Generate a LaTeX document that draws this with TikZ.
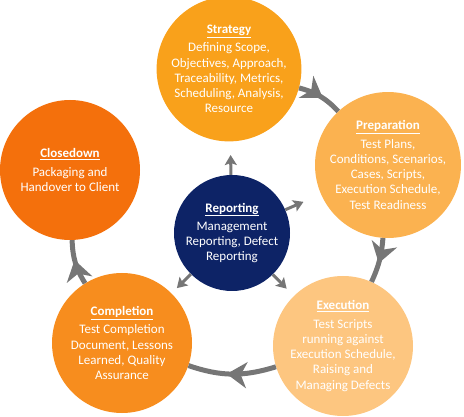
\documentclass[tikz,border=0pt]{standalone}
\usepackage{fontspec}
\setmainfont{Carlito}
\usepackage{tikz}
\usetikzlibrary{arrows.meta,decorations.markings,calc}
\definecolor{stratorange}{RGB}{249,161,27}
\definecolor{preporange}{RGB}{251,178,80}
\definecolor{execorange}{RGB}{253,198,128}
\definecolor{complorange}{RGB}{247,141,30}
\definecolor{closeorange}{RGB}{244,112,12}
\definecolor{repblue}{RGB}{13,35,102}
\definecolor{arrowgrey}{RGB}{118,118,118}
\newcommand{\phasetitle}[1]{\underline{\textbf{#1}}\\[3pt]}

\begin{document}
\begin{tikzpicture}[x=1pt,y=-1pt,
      phasenode/.style={circle,minimum size=140pt,inner sep=0pt,align=center,text=white,font=\fontsize{13}{15.3}\selectfont},
      hub/.style={phasenode,minimum size=116pt,fill=repblue},
      ring/.style={arrowgrey,line width=5pt,postaction={decorate},
        decoration={markings,mark=at position 0.56 with {\arrow{Stealth[length=20pt,width=26pt,inset=6pt]}}}},
      rpt/.style={arrowgrey,line width=3pt,-{Stealth[length=10pt,width=12pt,inset=2pt]}}
    ]
    \useasboundingbox (0,0) rectangle (464,417);
    \node[phasenode,fill=stratorange] (strat) at (229,69) {\phasetitle{Strategy}Defining Scope,\\Objectives, Approach,\\Traceability, Metrics,\\Scheduling, Analysis,\\Resource};
    \node[phasenode,fill=preporange] (prep) at (388,165) {\phasetitle{Preparation}Test Plans,\\Conditions, Scenarios,\\Cases, Scripts,\\Execution Schedule,\\Test Readiness};
    \node[phasenode,fill=execorange] (exec) at (343,346) {\phasetitle{Execution}Test Scripts\\running against\\Execution Schedule,\\Raising and\\Managing Defects};
    \node[phasenode,fill=complorange] (compl) at (122,343) {\phasetitle{Completion}Test Completion\\Document, Lessons\\Learned, Quality\\Assurance};
    \node[phasenode,fill=closeorange] (close) at (70,170) {\phasetitle{Closedown}Packaging and\\Handover to Client};
    \node[hub] (rep) at (232,233) {\phasetitle{Reporting}Management\\Reporting, Defect\\Reporting};
    % cycle of phases
    \draw[ring] (strat) to[bend left=16] (prep);
    \draw[ring] (prep) to[bend left=10] (exec);
    \draw[ring] (exec) to[bend left=18] (compl);
    \draw[ring] (compl) to[bend left=15] (close);
    % reporting feeds
    \draw[rpt] (rep) -- ($(rep)!78pt!(strat)$);
    \draw[rpt] (rep) -- ($(rep)!78pt!(prep)$);
    \draw[rpt] (rep) -- ($(rep)!78pt!(exec)$);
    \draw[rpt] (rep) -- ($(rep)!78pt!(compl)$);
  \end{tikzpicture}
\end{document}
